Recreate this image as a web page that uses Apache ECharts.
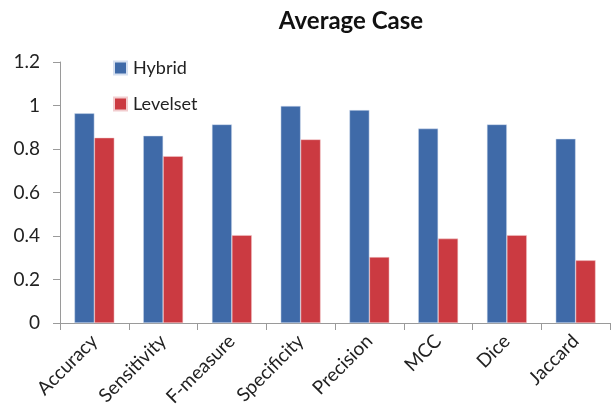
<!DOCTYPE html>
<html>
<head>
<meta charset="utf-8">
<script src="https://cdn.jsdelivr.net/npm/echarts@6/dist/echarts.min.js"></script>
<style>
  html, body { margin: 0; padding: 0; background: #fff; }
  #chart { width: 613px; height: 415px; }
</style>
</head>
<body>
<div id="chart"></div>
<script>
// categories and values
var categories = ['Accuracy', 'Sensitivity', 'F-measure', 'Specificity', 'Precision', 'MCC', 'Dice', 'Jaccard'];
var hybrid = [0.964, 0.861, 0.913, 0.998, 0.979, 0.894, 0.913, 0.847];
var levelset = [0.852, 0.767, 0.404, 0.844, 0.303, 0.388, 0.404, 0.288];
var yTicks = [0, 0.2, 0.4, 0.6, 0.8, 1, 1.2];

var font = 'Lato, "Open Sans", sans-serif';
var myChart = echarts.init(document.getElementById('chart'));
myChart.setOption({
  animation: false,
  color: ['#3F6AA8', '#CB3A41'],
  title: {
    text: 'Average Case',
    left: 346,
    top: 4,
    textAlign: 'center',
    textStyle: { fontFamily: font, fontSize: 24, fontWeight: 'bold', color: '#111' }
  },
  legend: {
    orient: 'vertical',
    left: 108,
    top: 54,
    itemWidth: 13,
    itemHeight: 13,
    itemGap: 18,
    icon: 'rect',
    textStyle: { fontFamily: font, fontSize: 18, color: '#222', padding: [0, 0, 0, 1] },
    data: ['Hybrid', 'Levelset']
  },
  grid: { left: 60, right: 3, top: 62, bottom: 92, containLabel: false },
  xAxis: {
    type: 'category',
    data: categories,
    axisLine: { lineStyle: { color: '#9a9a9a', width: 1 } },
    axisTick: { show: true, length: 7, lineStyle: { color: '#9a9a9a' } },
    axisLabel: {
      rotate: 45,
      margin: 15,
      fontFamily: font,
      fontSize: 19,
      color: '#222'
    }
  },
  yAxis: {
    type: 'value',
    min: yTicks[0],
    max: yTicks[yTicks.length - 1],
    interval: 0.2,
    axisLine: { show: true, lineStyle: { color: '#9a9a9a', width: 1 } },
    axisTick: { show: true, length: 7, lineStyle: { color: '#9a9a9a' } },
    splitLine: { show: false },
    axisLabel: {
      margin: 20,
      fontFamily: font,
      fontSize: 19,
      color: '#222',
      formatter: function (v) { return String(+v.toFixed(1)); }
    }
  },
  series: [
    {
      name: 'Hybrid',
      type: 'bar',
      data: hybrid,
      barGap: '0%',
      barCategoryGap: '42%',
      itemStyle: { borderColor: '#d6e0f0', borderWidth: 0.5 }
    },
    {
      name: 'Levelset',
      type: 'bar',
      data: levelset,
      barGap: '0%',
      barCategoryGap: '42%',
      itemStyle: { borderColor: '#f2cdcf', borderWidth: 0.5 }
    }
  ]
});
</script>
</body>
</html>
